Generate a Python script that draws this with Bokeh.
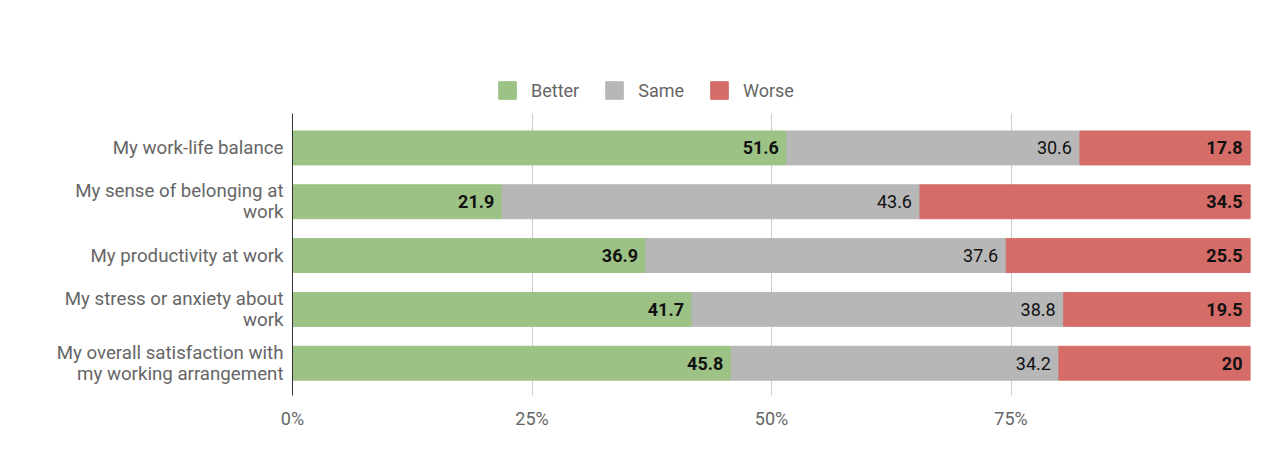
from bokeh.plotting import figure
from bokeh.models import ColumnDataSource, Legend, LegendItem, FixedTicker, Range1d
from bokeh.layouts import column
from bokeh.embed import file_html
from bokeh.resources import INLINE
from bokeh.core.properties import value

categories = [
    "My work-life balance",
    "My sense of belonging at\nwork",
    "My productivity at work",
    "My stress or anxiety about\nwork",
    "My overall satisfaction with\nmy working arrangement",
]
better = [51.6, 21.9, 36.9, 41.7, 45.8]
same = [30.6, 43.6, 37.6, 38.8, 34.2]
worse = [17.8, 34.5, 25.5, 19.5, 20.0]
series_names = ["Better", "Same", "Worse"]
colors = ["#9dc285", "#b7b7b7", "#d56c67"]
x_ticks = [0, 25, 50, 75]
x_tick_labels = ["0%", "25%", "50%", "75%"]

FONT = "Roboto"
W = 1252
TOP_H = 113
LEFT = 292
n = len(categories)
ypos = [n - 1 - i for i in range(n)]

b_end = better
s_end = [b + s for b, s in zip(better, same)]
w_end = [b + s + w for b, s, w in zip(better, same, worse)]

def fmt(v):
    return ("%g" % v)

src = ColumnDataSource(dict(
    y=ypos,
    b0=[0] * n, b1=b_end,
    s0=b_end, s1=s_end,
    w0=s_end, w1=w_end,
    bl=[fmt(v) for v in better],
    sl=[fmt(v) for v in same],
    wl=[fmt(v) for v in worse],
))

# ---- legend strip (top) ----
pl = figure(width=W, height=TOP_H, output_backend="svg", toolbar_location=None,
            x_range=Range1d(0, 1), y_range=Range1d(0, 1),
            x_axis_type=None, y_axis_type=None,
            min_border_left=LEFT, min_border_right=2, min_border_top=0, min_border_bottom=0)
pl.outline_line_color = None
pl.grid.visible = False
nan = float("nan")
leg_renderers = []
for c in colors:
    leg_renderers.append(pl.hbar(y=[nan], left=[nan], right=[nan], height=0.5, color=c))
legend = Legend(items=[LegendItem(label=s, renderers=[r], index=0) for s, r in zip(series_names, leg_renderers)],
                orientation="horizontal", location=(496 - LEFT, 12))
legend.border_line_color = None
legend.background_fill_alpha = 0
legend.label_text_font = FONT
legend.label_text_font_size = "18px"
legend.label_text_color = "#666666"
legend.glyph_width = 22
legend.glyph_height = 22
legend.spacing = 24
legend.label_standoff = 13
legend.padding = 0
legend.margin = 0
pl.add_layout(legend, "center")

# ---- main chart ----
p = figure(width=W, height=456 - TOP_H, output_backend="svg", toolbar_location=None,
           x_range=Range1d(0, 100), y_range=Range1d(-0.6, n - 1 + 0.64),
           min_border_left=LEFT, min_border_right=2, min_border_top=0,
           min_border_bottom=61)
p.outline_line_color = None
p.background_fill_color = "white"
p.border_fill_color = "white"

h = 0.63
p.hbar(y="y", left="b0", right="b1", height=h, color=colors[0], source=src)
p.hbar(y="y", left="s0", right="s1", height=h, color=colors[1], source=src)
p.hbar(y="y", left="w0", right="w1", height=h, color=colors[2], source=src)

for xcol, tcol, style in [("b1", "bl", "bold"), ("s1", "sl", "normal"), ("w1", "wl", "bold")]:
    p.text(x=xcol, y="y", text=tcol, source=src, x_offset=-8,
           text_align="right", text_baseline="middle", text_font=value(FONT),
           text_font_size="18px", text_font_style=style, text_color="#111111")

# x axis
p.xaxis.ticker = FixedTicker(ticks=x_ticks)
p.xaxis.major_label_overrides = {t: l for t, l in zip(x_ticks, x_tick_labels)}
p.xaxis.axis_line_color = None
p.xaxis.major_tick_line_color = None
p.xaxis.major_tick_out = 0
p.xaxis.minor_tick_line_color = None
p.xaxis.major_label_text_font = FONT
p.xaxis.major_label_text_font_size = "18px"
p.xaxis.major_label_text_color = "#666666"
p.xaxis.major_label_standoff = 12

p.xgrid.ticker = FixedTicker(ticks=[25, 50, 75, 100])
p.xgrid.grid_line_color = "#cccccc"
p.ygrid.grid_line_color = None

# y axis
p.yaxis.ticker = FixedTicker(ticks=ypos)
p.yaxis.major_label_overrides = {y: c for y, c in zip(ypos, categories)}
p.yaxis.axis_line_color = "#333333"
p.yaxis.axis_line_width = 1
p.yaxis.major_tick_line_color = None
p.yaxis.major_tick_out = 0
p.yaxis.minor_tick_line_color = None
p.yaxis.major_label_text_font = FONT
p.yaxis.major_label_text_font_size = "18.7px"
p.yaxis.major_label_text_color = "#666666"
p.yaxis.major_label_standoff = 9
p.yaxis.major_label_text_line_height = 0.95

layout = column(pl, p, spacing=0)
open("out.html", "w").write(file_html(layout, INLINE))
